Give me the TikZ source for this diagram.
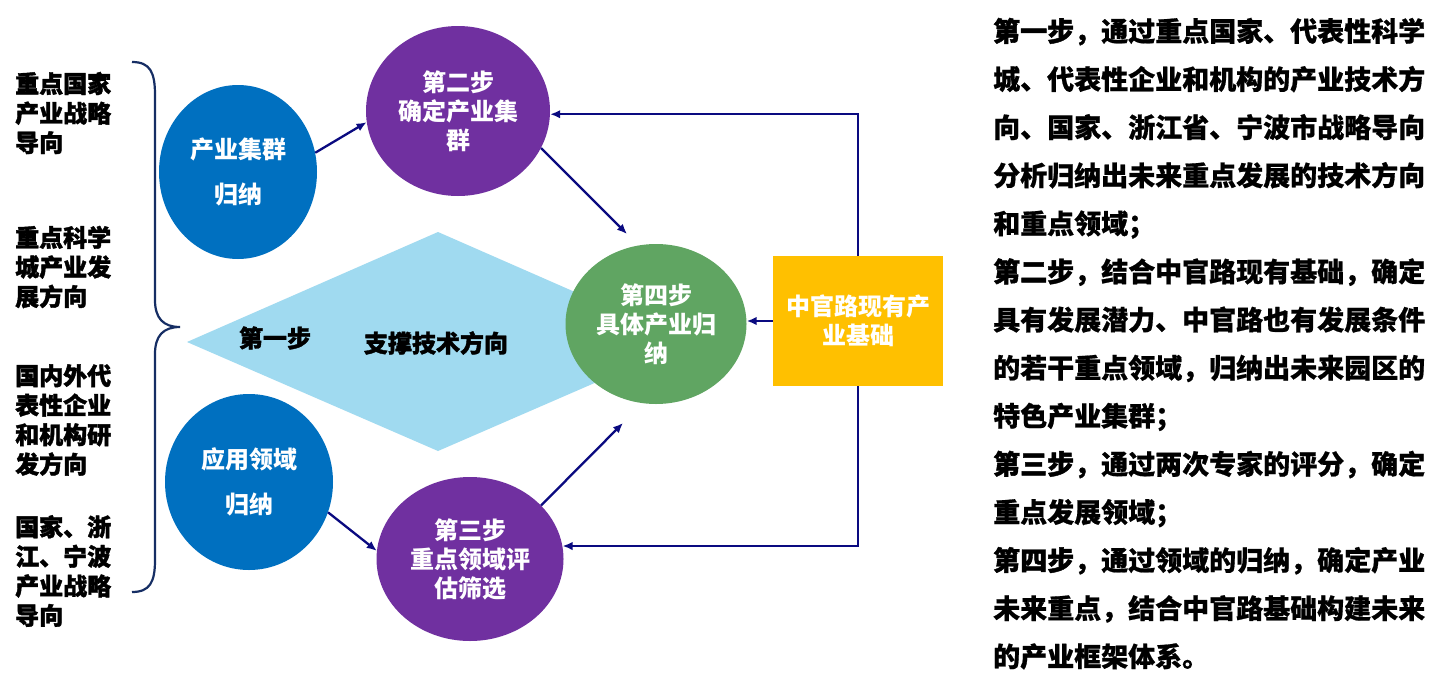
\documentclass[tikz,border=0pt]{standalone}
\usepackage{fontspec}
\setmainfont{Noto Sans CJK SC}
\newfontfamily\hvy{Noto Sans CJK SC}[UprightFont={*/B},FakeBold=1.6]
\newfontfamily\bodyf{Noto Sans CJK SC}[UprightFont={*/B},FakeBold=0.7]
\usetikzlibrary{arrows.meta,shapes.geometric}
\definecolor{cblue}{RGB}{0,112,192}
\definecolor{cpurple}{RGB}{112,48,160}
\definecolor{cgreen}{RGB}{96,165,98}
\definecolor{cyellow}{RGB}{255,192,0}
\definecolor{lblue}{RGB}{160,218,240}
\definecolor{navyc}{RGB}{10,10,128}
\definecolor{bracec}{RGB}{22,46,100}
\tikzset{
  circ/.style={ellipse, inner sep=0pt, text=white, align=center,
    font=\bfseries\fontsize{24}{29}\selectfont},
  circwide/.style={circ, font=\bfseries\fontsize{24}{44.5}\selectfont},
  arr/.style={draw=navyc, line width=2.3pt, -{Latex[length=10pt,width=8.5pt]}},
  lefttext/.style={anchor=west, align=left, inner sep=0pt,
    font=\hvy\fontsize{24}{29.5}\selectfont},
  dtext/.style={inner sep=0pt, font=\hvy\fontsize{24}{24}\selectfont},
  rtext/.style={anchor=base west, inner sep=0pt,
    font=\bodyf\fontsize{27}{27}\selectfont},
}
\begin{document}
\begin{tikzpicture}[x=1pt,y=-1pt]
\useasboundingbox[fill=white] (0,0) rectangle (1442,688);

% left labels
\node[lefttext] (l1) at (15,113) {重点国家\\产业战略\\导向};
\node[lefttext] (l2) at (15,267) {重点科学\\城产业发\\展方向};
\node[lefttext] (l3) at (15,420) {国内外代\\表性企业\\和机构研\\发方向};
\node[lefttext] (l4) at (15,571) {国家、浙\\江、宁波\\产业战略\\导向};

% brace
\draw[bracec, line width=2.2pt]
  (132,62) .. controls (150,62) and (155,72) .. (155,95) -- (155,300)
  .. controls (155,318) and (163,327) .. (180,327)
  .. controls (163,327) and (155,336) .. (155,354) -- (155,560)
  .. controls (155,582) and (150,592) .. (132,592);

% diamond
\fill[lblue] (187,342) -- (438,232) -- (689,342) -- (438,451) -- cycle;
\node[dtext] (d1) at (275,338) {第一步};
\node[dtext] (d2) at (436,343) {支撑技术方向};

% circles
\node[circwide, fill=cblue, minimum width=158, minimum height=174] (n1) at (238,172) {产业集群\\归纳};
\node[circwide, fill=cblue, minimum width=168, minimum height=176] (n5) at (249,482) {应用领域\\归纳};
\node[circ, fill=cpurple, minimum width=184, minimum height=170] (n2) at (458,111) {第二步\\确定产业集\\群};
\node[circ, fill=cgreen, minimum width=181, minimum height=160] (n4) at (656,324) {第四步\\具体产业归\\纳};
\node[circ, fill=cpurple, minimum width=187, minimum height=164] (n3) at (470,559) {第三步\\重点领域评\\估筛选};
\node[rectangle, fill=cyellow, inner sep=0pt, minimum width=170, minimum height=130,
  text=white, align=center, font=\bfseries\fontsize{24}{29}\selectfont] (yb) at (858,321) {中官路现有产\\业基础};

% connectors
\coordinate (t2) at (627,234);
\coordinate (t4) at (623,423);
\draw[arr] (n1.14) -- (n2.187);
\draw[arr] (n2.336) -- (t2);
\draw[arr] (n5.339) -- (n3.175);
\draw[arr] (n3.37) -- (t4);
\draw[arr] (yb.west) -- (yb.west -| n4.east);
\draw[arr] (yb.north) |- (n2.358);
\draw[arr] (yb.south) |- (n3.8);

% right text
\foreach \t [count=\i] in {
  {{\hvy 第一步}，通过重点国家、代表性科学},
  {城、代表性企业和机构的产业技术方},
  {向、国家、浙江省、宁波市战略导向},
  {分析归纳出未来重点发展的技术方向},
  {和重点领域；},
  {{\hvy 第二步}，结合中官路现有基础，确定},
  {具有发展潜力、中官路也有发展条件},
  {的若干重点领域，归纳出未来园区的},
  {特色产业集群；},
  {{\hvy 第三步}，通过两次专家的评分，确定},
  {重点发展领域；},
  {{\hvy 第四步}，通过领域的归纳，确定产业},
  {未来重点，结合中官路基础构建未来},
  {的产业框架体系。}}
  \node[rtext, name=r\i] at (993,{41.3+48.1*(\i-1)}) {\t};
\end{tikzpicture}
\end{document}
